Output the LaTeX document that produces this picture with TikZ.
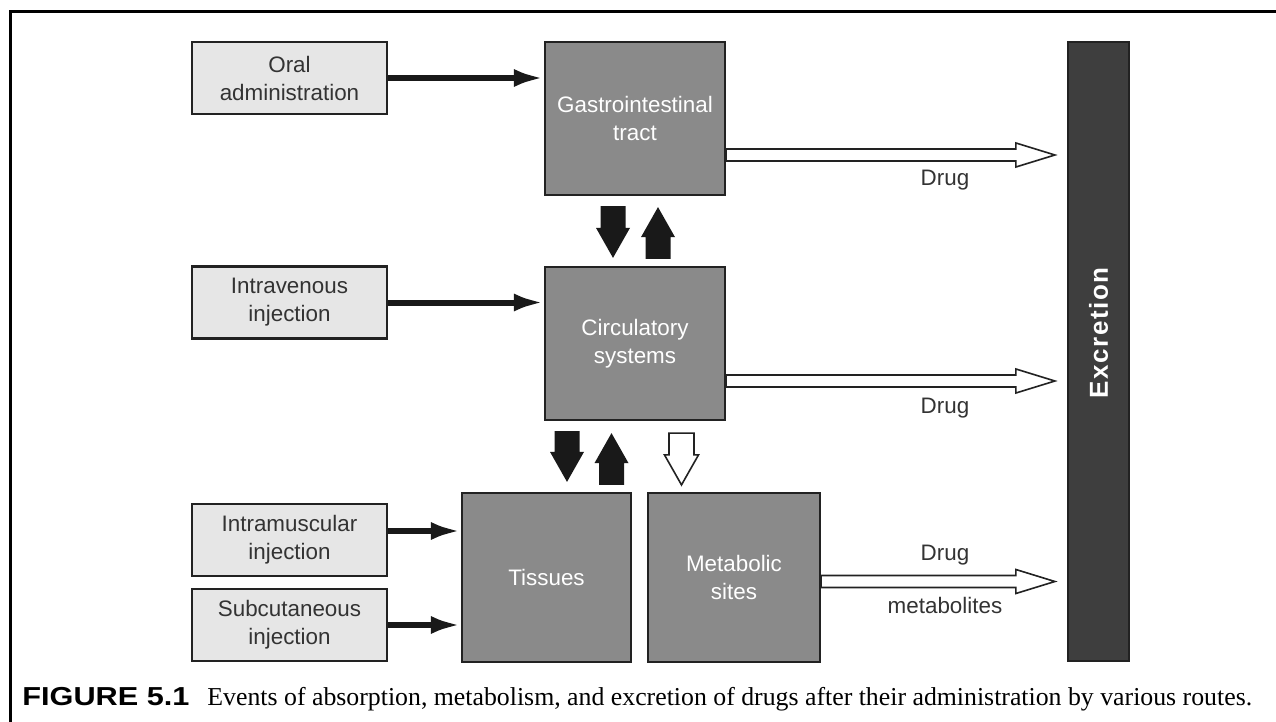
\documentclass[tikz,border=0pt]{standalone}
\usepackage{fontspec}
\setmainfont{Liberation Serif}
\setsansfont{Liberation Sans}
\usetikzlibrary{arrows.meta,calc,positioning}
\definecolor{BoxGray}{RGB}{138,138,138}
\definecolor{PaleGray}{RGB}{230,230,230}
\definecolor{BarGray}{RGB}{62,62,62}
\definecolor{EdgeGray}{RGB}{34,34,34}
\newcommand{\hollowarrow}[2]{%
	\draw[hollow] ($(#1)+(0,-6)$) -- ($(#2)+(-39,-6)$) -- ($(#2)+(-39,-12)$) -- (#2)
		-- ($(#2)+(-39,12)$) -- ($(#2)+(-39,6)$) -- ($(#1)+(0,6)$) -- cycle;}
\newcommand{\blockarrow}[4]{%
	\draw[#1] ($(#2)+(-12.5,0)$) -- ($(#3)+(-12.5,{-30*(#4)})$) -- ($(#3)+(-17,{-30*(#4)})$) -- (#3)
		-- ($(#3)+(17,{-30*(#4)})$) -- ($(#3)+(12.5,{-30*(#4)})$) -- ($(#2)+(12.5,0)$) -- cycle;}

\begin{document}
\begin{tikzpicture}[x=0.5pt, y=-0.5pt,
	route/.style={draw=EdgeGray, line width=1.1pt, fill=PaleGray, minimum width=97.5pt, minimum height=36pt,
		align=center, inner sep=0pt, text=black!80, font=\sffamily\fontsize{11.2}{14}\selectfont},
	organ/.style={draw=EdgeGray, line width=1.1pt, fill=BoxGray, align=center, inner sep=0pt,
		text=white, font=\sffamily\fontsize{11.2}{14}\selectfont},
	feed/.style={line width=3pt, black!90, -{Latex[length=15pt,width=9pt]}},
	hollow/.style={draw=EdgeGray, line width=0.8pt, fill=white},
	solid/.style={draw=none, fill=black!90},
	tag/.style={text=black!80, font=\sffamily\fontsize{11.2}{14}\selectfont, inner sep=0pt}]
	\useasboundingbox (0,0) rectangle (1276,722);
	\draw[line width=1.5pt] (1290,12) -| (10,740);

	\node[route] (oral) at (289.5,78) {Oral\\administration};
	\node[route] (iv) at (289.5,302.5) {Intravenous\\injection};
	\node[route] (im) at (289.5,540) {Intramuscular\\injection};
	\node[route] (sc) at (289.5,625) {Subcutaneous\\injection};

	\node[organ, minimum width=90pt, minimum height=76.5pt] (gi) at (635,118.5) {Gastrointestinal\\tract};
	\node[organ, minimum width=90pt, minimum height=76.5pt] (circ) at (635,343.5) {Circulatory\\systems};
	\node[organ, minimum width=84.5pt, minimum height=84.5pt] (tis) at (546.5,577.5) {Tissues};
	\node[organ, minimum width=86pt, minimum height=84.5pt] (meta) at (734,577.5) {Metabolic\\sites};

	\node[draw=EdgeGray, line width=1.1pt, fill=BarGray, minimum width=30.5pt, minimum height=309.5pt] (exc) at (1098.5,351.5) {};
	\node[rotate=90, text=white, font=\sffamily\bfseries\fontsize{13}{15}\selectfont\addfontfeature{LetterSpace=6}] (exclabel) at (1098.5,333) {Excretion};

	\draw[feed] (oral) -- (gi.west |- oral);
	\draw[feed] (iv) -- (circ.west |- iv);
	\coordinate (imout) at ($(im.east)+(0,-9)$);
	\draw[feed] (imout) -- (tis.west |- imout);
	\draw[feed] (sc) -- (tis.west |- sc);

	\coordinate (d1s) at ($(gi.east)+(0,36.5)$);
	\coordinate (d1e) at ($(d1s -| exc.west)+(-12,0)$);
	\coordinate (d2s) at ($(circ.east)+(0,37.5)$);
	\coordinate (d2e) at ($(d2s -| exc.west)+(-12,0)$);
	\coordinate (d3s) at ($(meta.east)+(0,4)$);
	\coordinate (d3e) at ($(d3s -| exc.west)+(-12,0)$);
	\hollowarrow{d1s}{d1e}
	\hollowarrow{d2s}{d2e}
	\hollowarrow{d3s}{d3e}
	\node[tag] (drug1) at (945,180) {Drug};
	\node[tag] (drug2) at (945,408) {Drug};
	\node[tag] (drug3) at (945,555) {Drug};
	\node[tag] (metab) at (945,605) {metabolites};

	\coordinate (gd1) at ($(gi.south)+(-22,10)$);
	\coordinate (gd2) at ($(circ.north)+(-22,-8)$);
	\coordinate (gu1) at ($(circ.north)+(23,-7)$);
	\coordinate (gu2) at ($(gi.south)+(23,11)$);
	\coordinate (td1) at ($(circ.south)+(-68,10)$);
	\coordinate (td2) at ($(tis.north)+(20.5,-10)$);
	\coordinate (tu1) at ($(tis.north)+(65,-7)$);
	\coordinate (tu2) at ($(circ.south)+(-23.5,12)$);
	\coordinate (md1) at ($(circ.south)+(46.5,12)$);
	\coordinate (md2) at ($(meta.north)+(-52.5,-7)$);
	\blockarrow{solid}{gd1}{gd2}{1}
	\blockarrow{solid}{gu1}{gu2}{-1}
	\blockarrow{solid}{td1}{td2}{1}
	\blockarrow{solid}{tu1}{tu2}{-1}
	\blockarrow{hollow}{md1}{md2}{1}

	\node[anchor=base west, inner sep=0pt, font=\fontsize{12.9}{15}\selectfont] (caption) at (22,705)
		{\scalebox{1.18}[1]{\sffamily\bfseries\fontsize{13}{15}\selectfont FIGURE 5.1}\hspace{9pt}Events of absorption, metabolism, and excretion of drugs after their administration by various routes.};
\end{tikzpicture}
\end{document}
